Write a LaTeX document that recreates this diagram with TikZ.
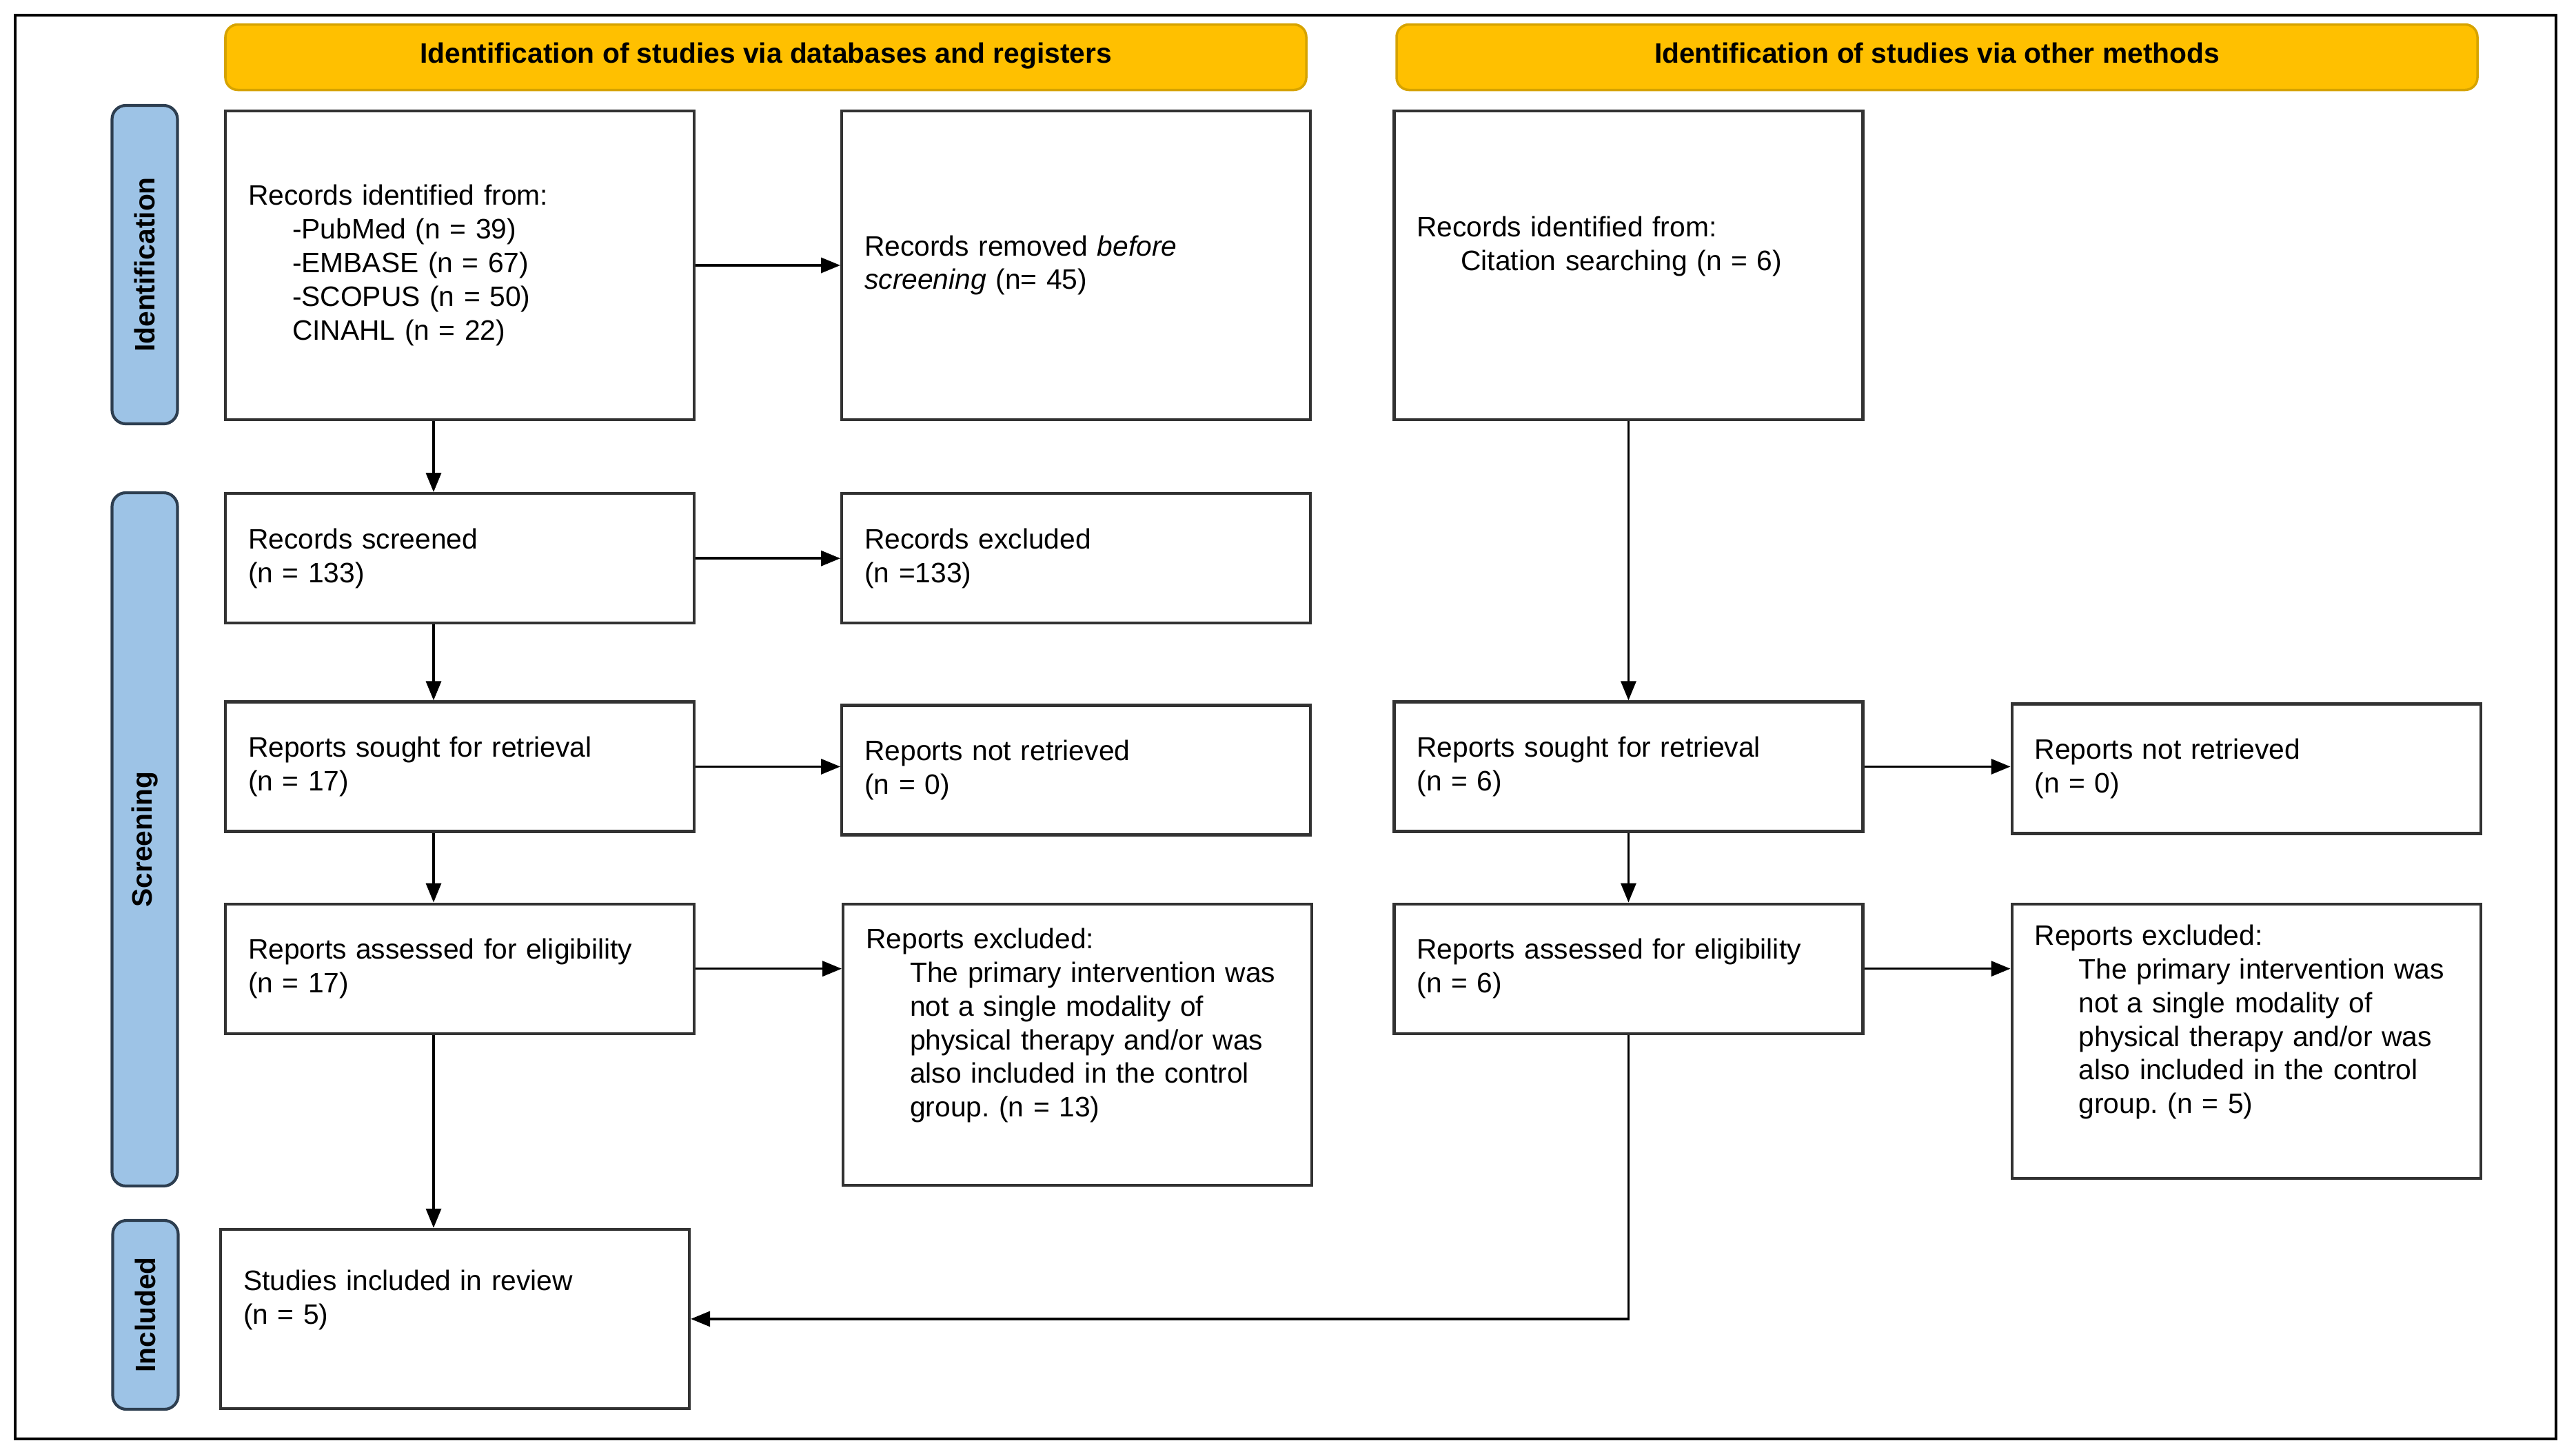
\documentclass[tikz,border=0pt]{standalone}
\usepackage{fontspec}
\setmainfont{Liberation Sans}
\usepackage{tikz}
\usetikzlibrary{arrows.meta,positioning}
\definecolor{gold}{RGB}{255,192,0}
\definecolor{golddark}{RGB}{214,163,0}
\definecolor{sideblue}{RGB}{157,195,230}
\definecolor{sideedge}{RGB}{45,62,80}
\definecolor{edgegray}{RGB}{50,50,50}
\newcommand{\ind}{\hspace*{0.64cm}}
\newcommand{\txtsize}{\fontsize{11.6}{13.9}\selectfont}
\frenchspacing

\begin{document}
\begin{tikzpicture}[
    font=\txtsize,
    node distance=1.03cm and 2.10cm,
    box/.style={rectangle, draw=edgegray, line width=1.2pt, fill=white,
        minimum width=6.80cm, minimum height=1.88cm, text width=6.14cm,
        inner xsep=0.33cm, align=left},
    head/.style={rectangle, draw=golddark, line width=1pt, fill=gold, rounded corners=0.18cm,
        minimum width=15.68cm, minimum height=0.95cm, text height=0.75em, text depth=0.25em,
        font=\txtsize\bfseries},
    side/.style={rectangle, draw=sideedge, line width=1.2pt, fill=sideblue, rounded corners=0.2cm,
        minimum height=0.95cm, rotate=90, font=\txtsize\bfseries},
    arr/.style={-{Triangle[length=0.28cm, width=0.22cm]}, line width=1pt, black}
]
\useasboundingbox (0,0) rectangle (37.37,-21.06);
\draw[line width=1.4pt] (0.22,-0.22) rectangle (37.08,-20.88);

% column headers
\node[head] (hdb) at (11.11,-0.83) {Identification of studies via databases and registers};
\node[head] (hother) at (28.10,-0.83) {Identification of studies via other methods};

% phase labels
\node[side, minimum width=4.62cm] (sident) at (2.10,-3.84) {Identification};
\node[side, minimum width=10.06cm] (sscreen) at (2.10,-12.18) {Screening};
\node[side, minimum width=2.74cm] (sincl) at (2.11,-19.08) {Included};

% databases and registers
\node[box, minimum height=4.48cm] (ident) at (6.67,-3.85) {Records identified from:\\
    \ind -PubMed (n = 39)\\
    \ind -EMBASE (n = 67)\\
    \ind -SCOPUS (n = 50)\\
    \ind CINAHL (n = 22)};
\node[box, minimum height=4.48cm, right=of ident] (removed) {Records removed \textit{before}\\ \textit{screening} (n= 45)};
\node[box, below=of ident] (screened) {Records screened\\ (n = 133)};
\node[box, right=of screened] (excluded) {Records excluded\\ (n =133)};
\node[box, below=1.10cm of screened] (sought) {Reports sought for retrieval\\ (n = 17)};
\node[box, right=of sought, yshift=-0.05cm] (notret) {Reports not retrieved\\ (n = 0)};
\node[box, below=1.01cm of sought] (assessed) {Reports assessed for eligibility\\ (n = 17)};
\node[box, minimum height=4.08cm, right=2.12cm of assessed.north east, anchor=north west] (repexcl) {Reports excluded:\\
    \ind The primary intervention was\\
    \ind not a single modality of\\
    \ind physical therapy and/or was\\
    \ind also included in the control\\
    \ind group. (n = 13)\\ \strut};
\node[box, minimum height=2.60cm, below=2.80cm of assessed, xshift=-0.07cm] (included) {Studies included in review\\ (n = 5)\\ \strut};

% other methods
\node[box, minimum height=4.48cm, right=1.17cm of removed] (otherid) {Records identified from:\\
    \ind Citation searching (n = 6)\\ \strut};
\node[box] (soughtb) at (otherid |- sought) {Reports sought for retrieval\\ (n = 6)};
\node[box, right=2.12cm of soughtb, yshift=-0.03cm] (notretb) {Reports not retrieved\\ (n = 0)};
\node[box] (assessedb) at (otherid |- assessed) {Reports assessed for eligibility\\ (n = 6)};
\node[box, minimum height=3.98cm, right=2.12cm of assessedb.north east, anchor=north west] (repexclb) {Reports excluded:\\
    \ind The primary intervention was\\
    \ind not a single modality of\\
    \ind physical therapy and/or was\\
    \ind also included in the control\\
    \ind group. (n = 5)\\ \strut};

\coordinate (lx) at (6.29,0);

\draw[arr] (ident) -- (removed);
\draw[arr] (ident.south -| lx) -- (screened.north -| lx);
\draw[arr] (screened) -- (excluded);
\draw[arr] (screened.south -| lx) -- (sought.north -| lx);
\draw[arr] (sought.east) -- (sought.east -| notret.west);
\draw[arr] (sought.south -| lx) -- (assessed.north -| lx);
\draw[arr] (assessed.east) -- (assessed.east -| repexcl.west);
\draw[arr] (assessed.south -| lx) -- (included.north -| lx);

\draw[arr] (otherid) -- (soughtb);
\draw[arr] (soughtb.east) -- (soughtb.east -| notretb.west);
\draw[arr] (soughtb) -- (assessedb);
\draw[arr] (assessedb.east) -- (assessedb.east -| repexclb.west);
\draw[arr] (assessedb.south) |- (included.east);
\end{tikzpicture}
\end{document}
